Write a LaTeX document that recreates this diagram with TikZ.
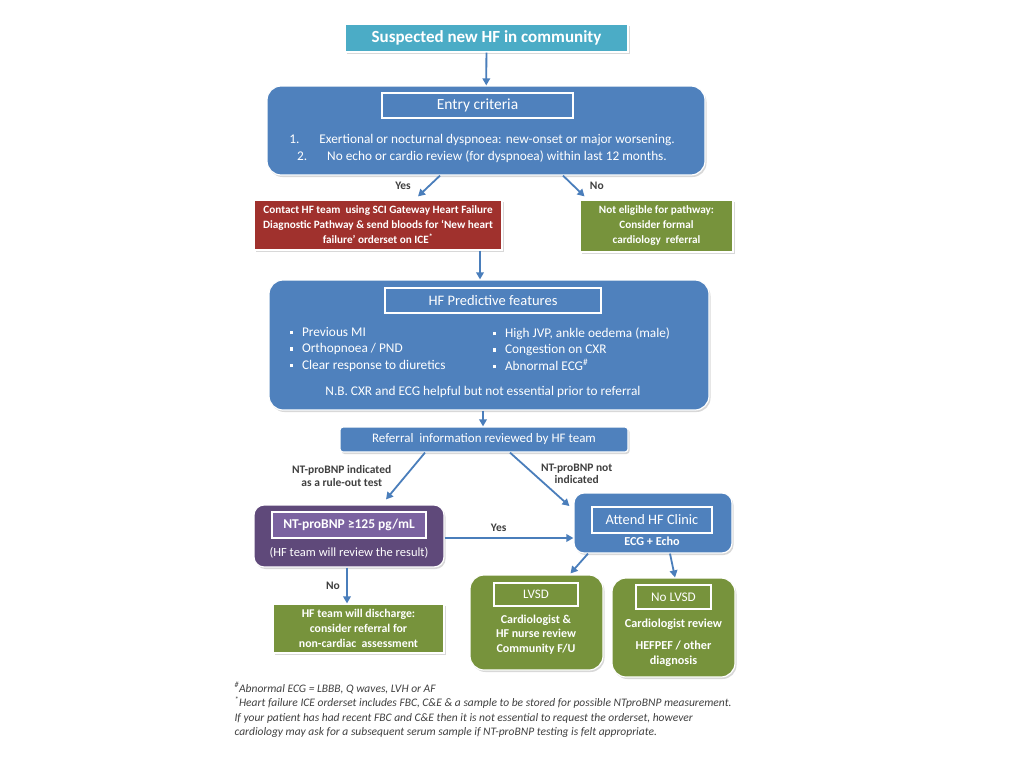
\documentclass[tikz,border=0pt]{standalone}
\usepackage{fontspec}
\setmainfont{Carlito}
\usetikzlibrary{arrows.meta,shadows}
\definecolor{hfblue}{HTML}{4F81BD}
\definecolor{hfteal}{HTML}{4BACC6}
\definecolor{hfred}{HTML}{A0312D}
\definecolor{hfgreen}{HTML}{77933C}
\definecolor{hfpurple}{HTML}{5F497A}
\definecolor{hflilac}{HTML}{7B62A0}
\definecolor{hfarrow}{HTML}{4A7EBB}
\definecolor{hftext}{HTML}{404040}
\newcommand{\sqb}{\raisebox{0.3ex}{\rule{3.5pt}{3.5pt}}\hspace{9pt}}

\begin{document}
\begin{tikzpicture}[
  x=1pt, y=-1pt,
  font=\fontsize{13}{16}\selectfont,
  box/.style={draw=white, line width=1.2pt, text=white, align=center, inner sep=2pt,
    drop shadow={opacity=0.3, shadow xshift=1.5pt, shadow yshift=-2pt}},
  bigbox/.style={box, fill=hfblue, rounded corners=14pt},
  flatbox/.style={box, font=\fontsize{11.2}{15}\selectfont\bfseries},
  titlebox/.style={draw=white, line width=2.2pt, text=white, inner sep=0pt},
  intext/.style={text=white, align=center},
  lbl/.style={text=hftext, font=\fontsize{11.5}{12.5}\selectfont\bfseries, align=center},
  arr/.style={-{Triangle[length=7pt,width=7.5pt]}, draw=hfarrow, line width=1.8pt}
]
\fill[white] (0,0) rectangle (1024,768);
\useasboundingbox (0,0) rectangle (1024,768);

% Start
\node[box, fill=hfteal, minimum width=283pt, minimum height=28pt,
  font=\fontsize{17}{20}\selectfont\bfseries] (top) at (486.5,38) {Suspected new HF in community};

% Entry criteria
\node[bigbox, minimum width=438pt, minimum height=89pt] (entry) at (486,130.5) {};
\node[titlebox, minimum width=191pt, minimum height=25pt, font=\fontsize{15.5}{18}\selectfont] (entrytitle) at (477.5,105.5) {Entry criteria};
\node[intext, font=\fontsize{13.3}{17}\selectfont] (entrylist) at (482,148.5)
  {1.\hspace{20pt}Exertional or nocturnal dyspnoea: new-onset or major worsening.\\
   2.\hspace{20pt}No echo or cardio review (for dyspnoea) within last 12 months.};

% Outcomes of entry
\node[flatbox, fill=hfred, minimum width=248pt, minimum height=50pt] (contact) at (378,225)
  {Contact HF team\ \ using SCI Gateway Heart Failure\\
   Diagnostic Pathway \& send bloods for `New heart\\
   failure' orderset on ICE\textsuperscript{*}};
\node[flatbox, fill=hfgreen, minimum width=153pt, minimum height=52pt] (noteligible) at (656.5,226)
  {Not eligible for pathway:\\Consider formal\\cardiology\ \ referral};

% Predictive features
\node[bigbox, minimum width=440pt, minimum height=130pt] (predict) at (489,345) {};
\node[titlebox, minimum width=216pt, minimum height=25pt, font=\fontsize{14.5}{17}\selectfont] (predicttitle) at (493,300.5) {HF Predictive features};
\node[intext, align=left, anchor=west, font=\fontsize{13.3}{16.5}\selectfont] (featleft) at (286,349)
  {\sqb Previous MI\\\sqb Orthopnoea / PND\\\sqb Clear response to diuretics};
\node[intext, align=left, anchor=west, font=\fontsize{13.3}{16.5}\selectfont] (featright) at (489,349)
  {\sqb High JVP, ankle oedema (male)\\\sqb Congestion on CXR\\\sqb Abnormal ECG\textsuperscript{\#}};
\node[intext, font=\fontsize{13.3}{16}\selectfont] (nbnote) at (483,392)
  {N.B. CXR and ECG helpful but not essential prior to referral};

% Referral review
\node[box, fill=hfblue, rounded corners=3pt, minimum width=288pt, minimum height=25pt,
  font=\fontsize{13}{16}\selectfont] (referral) at (484,439.5)
  {Referral\ \ information reviewed by HF team};

% NT-proBNP
\node[box, fill=hfpurple, rounded corners=10pt, minimum width=190pt, minimum height=62pt] (bnp) at (349,536) {};
\node[titlebox, fill=hflilac, minimum width=154pt, minimum height=26pt, font=\fontsize{13.5}{16}\selectfont\bfseries] (bnptitle) at (349,525) {NT-proBNP ≥125 pg/mL};
\node[intext, font=\fontsize{12.5}{15}\selectfont] (bnpnote) at (349,553) {(HF team will review the result)};

% HF clinic
\node[box, fill=hfblue, rounded corners=10pt, minimum width=158pt, minimum height=60pt] (clinic) at (653,523) {};
\node[titlebox, minimum width=120pt, minimum height=26pt, font=\fontsize{14.4}{17}\selectfont] (clinictitle) at (652,520) {Attend HF Clinic};
\node[intext, font=\fontsize{12.2}{14}\selectfont\bfseries] (clinicnote) at (652,541) {ECG + Echo};

% Discharge
\node[flatbox, fill=hfgreen, minimum width=171pt, minimum height=49pt,
  font=\fontsize{11.8}{15}\selectfont\bfseries] (discharge) at (358.5,628.5)
  {HF team will discharge:\\consider referral for\\non-cardiac\ \ assessment};

% Clinic outcomes
\node[box, fill=hfgreen, rounded corners=14pt, minimum width=133pt, minimum height=95pt] (lvsd) at (536.5,622.5) {};
\node[titlebox, minimum width=84pt, minimum height=23pt, font=\fontsize{13}{15}\selectfont] (lvsdtitle) at (536,594.5) {LVSD};
\node[intext, font=\fontsize{12}{14.5}\selectfont\bfseries] (lvsdnote) at (536,634.5)
  {Cardiologist \&\\HF nurse review\\Community F/U};
\node[box, fill=hfgreen, rounded corners=14pt, minimum width=123pt, minimum height=99pt] (nolvsd) at (673.5,627.5) {};
\node[titlebox, minimum width=75pt, minimum height=24pt, font=\fontsize{13.2}{15}\selectfont] (nolvsdtitle) at (673.5,597) {No LVSD};
\node[intext, font=\fontsize{12.2}{14.5}\selectfont\bfseries] (nolvsdnote) at (673.5,624) {Cardiologist review};
\node[intext, font=\fontsize{12.2}{14.5}\selectfont\bfseries] (nolvsddiag) at (673.5,653.5) {HEFPEF / other\\diagnosis};

% Connectors
\draw[arr] (top) -- (entry);
\draw[arr] ([xshift=-46pt]entry.south) -- ([xshift=40pt,yshift=3pt]contact.north)
  node[lbl, midway, left=14pt] {Yes};
\draw[arr] ([xshift=77pt]entry.south) -- ([xshift=-72pt,yshift=3pt]noteligible.north)
  node[lbl, midway, right=12pt] {No};
\draw[arr] ([xshift=102pt]contact.south) -- ([xshift=102pt]contact.south |- predict.north);
\draw[arr] ([xshift=-6pt]predict.south) -- ([xshift=-6pt]predict.south |- referral.north);
\draw[arr] ([xshift=-59pt]referral.south) -- ([xshift=37pt,yshift=5pt]bnp.north)
  node[lbl, midway, left=10pt] {NT-proBNP indicated\\as a rule-out test};
\draw[arr] ([xshift=26pt]referral.south) -- ([xshift=-4pt,yshift=17pt]clinic.west)
  node[lbl, pos=0.4, right=3pt] {NT-proBNP not\\indicated};
\draw[arr] ([yshift=-2pt]bnp.east) -- ([yshift=-2pt]bnp.east -| clinic.west)
  node[lbl, pos=0.42, above=2pt] {Yes};
\draw[arr] ([xshift=-2pt]bnp.south) -- ([xshift=-2pt]bnp.south |- discharge.north)
  node[lbl, midway, left=3pt] {No};
\draw[arr] ([xshift=-65pt]clinic.south) -- ([xshift=34pt,yshift=1pt]lvsd.north);
\draw[arr] ([xshift=17pt]clinic.south) -- ([xshift=1.5pt]nolvsd.north);

% Footnotes
\node[anchor=north west, align=left, text=hftext, font=\fontsize{11.5}{14.5}\selectfont\itshape] (notes) at (231,679)
  {\textsuperscript{\#}Abnormal ECG = LBBB, Q waves, LVH or AF\\
   \textsuperscript{*}Heart failure ICE orderset includes FBC, C\&E \& a sample to be stored for possible NTproBNP measurement.\\
   If your patient has had recent FBC and C\&E then it is not essential to request the orderset, however\\
   cardiology may ask for a subsequent serum sample if NT-proBNP testing is felt appropriate.};
\end{tikzpicture}
\end{document}
